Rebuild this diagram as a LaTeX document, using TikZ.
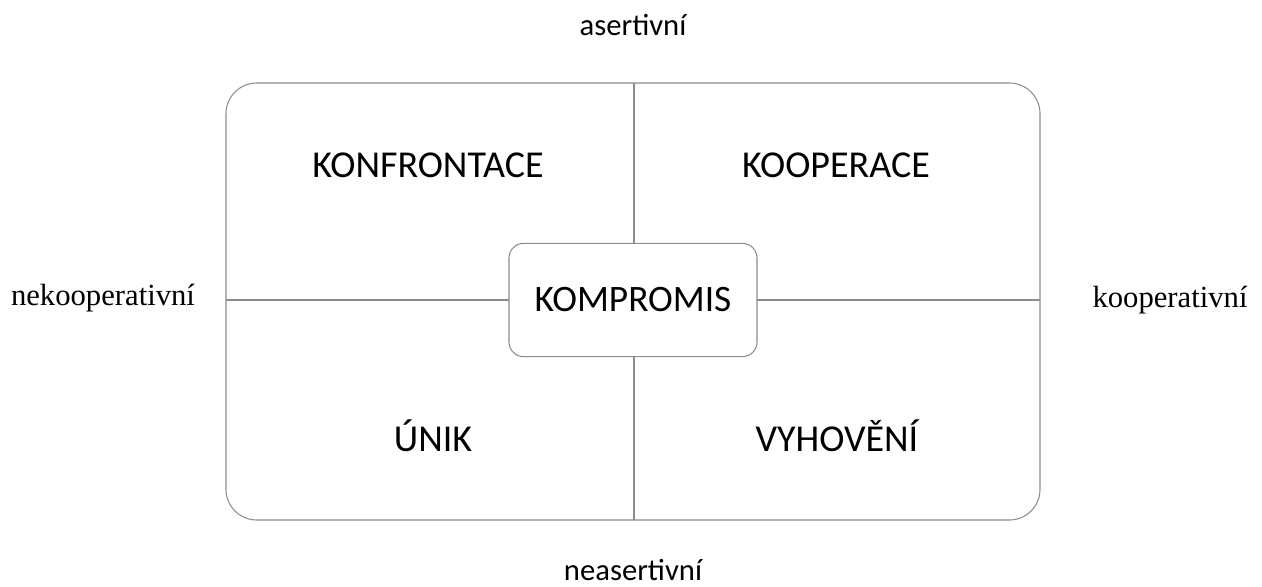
\documentclass[tikz,border=0pt]{standalone}
\usepackage{fontspec}
\setmainfont{Carlito}
\newfontfamily\serifnormal{Liberation Serif}
\begin{document}
\begin{tikzpicture}[
            x = 0.75pt, y = -0.75pt,
            frame/.style = {draw = black!45, line width = 0.8pt},
            quad/.style = {font = \fontsize{28.5}{33}\selectfont, text = black},
            axis/.style = {font = \fontsize{23}{27}\selectfont, text = black},
            side/.style = {font = \serifnormal\fontsize{23}{27}\selectfont, text = black},
            mid/.style = {draw = black!45, line width = 0.8pt, rounded corners = 11pt,
                          fill = white, minimum width = 186pt, minimum height = 85pt,
                          inner sep = 0pt, font = \fontsize{28}{33}\selectfont, text = black},
        ]
        \useasboundingbox (0,0) rectangle (1262,586);

        \draw[frame, rounded corners = 23pt] (226,83) rectangle (1040,520);
        \coordinate (top) at (634,83);
        \coordinate (bot) at (634,520);
        \coordinate (lft) at (226,300);
        \coordinate (rgt) at (1040,300);

        \path[frame] (top) -- (bot);
        \path[frame] (lft) -- (rgt);

        \node (komp) [mid] at (633,300) {KOMPROMIS};

        \node (konf) [quad] at (428,165) {KONFRONTACE};
        \node (koop) [quad] at (836,165) {KOOPERACE};
        \node (unik) [quad] at (433,436) {ÚNIK};
        \node (vyho) [quad] at (837,436) {VYHOVĚNÍ};

        \node (asert) [axis] at (633,25) {asertivní};
        \node (neasert) [axis] at (633,570) {neasertivní};
        \node (nekoop) [side] at (103,298) {nekooperativní};
        \node (koopside) [side] at (1170,300) {kooperativní};
    \end{tikzpicture}
\end{document}
